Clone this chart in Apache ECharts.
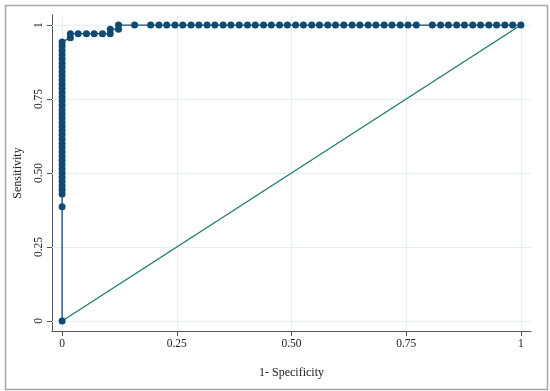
<!DOCTYPE html>
<html><head><meta charset="utf-8">
<script src="https://cdn.jsdelivr.net/npm/echarts@6/dist/echarts.min.js"></script>
<style>html,body{margin:0;padding:0;background:#fff}#c{width:550px;height:391px}</style>
</head><body><div id="c"></div>
<script>
const tickValues = [0, 0.25, 0.5, 0.75, 1];
const tickLabels = ['0', '0.25', '0.50', '0.75', '1'];

// ROC curve points (1 - specificity, sensitivity)
const rocFpr = [
  0, 0,
  0, 0, 0, 0, 0, 0, 0, 0, 0, 0,
  0, 0, 0, 0, 0, 0, 0, 0, 0, 0,
  0, 0, 0, 0, 0, 0, 0, 0, 0, 0,
  0, 0, 0, 0, 0, 0, 0,
  0.018, 0.018, 0.035, 0.053, 0.070, 0.088, 0.105, 0.105, 0.123, 0.123,
  0.158, 0.193, 0.211, 0.228, 0.246, 0.263, 0.281, 0.298, 0.316, 0.333, 0.351, 0.368, 0.386, 0.404,
  0.421, 0.439, 0.456, 0.474, 0.491, 0.509, 0.526, 0.544, 0.561, 0.579, 0.596, 0.614, 0.632, 0.649,
  0.667, 0.684, 0.702, 0.719, 0.737, 0.754, 0.772, 0.807, 0.825, 0.842, 0.860, 0.877, 0.895, 0.912,
  0.930, 0.947, 0.965, 0.982, 1.000
];
const rocTpr = [
  0, 0.386,
  0.429, 0.443, 0.457, 0.471, 0.486, 0.500, 0.514, 0.529, 0.543, 0.557,
  0.571, 0.586, 0.600, 0.614, 0.629, 0.643, 0.657, 0.671, 0.686, 0.700,
  0.714, 0.729, 0.743, 0.757, 0.771, 0.786, 0.800, 0.814, 0.829, 0.843,
  0.857, 0.871, 0.886, 0.900, 0.914, 0.929, 0.943,
  0.957, 0.971, 0.971, 0.971, 0.971, 0.971, 0.971, 0.986, 0.986, 1,
  1, 1, 1, 1, 1, 1, 1, 1, 1, 1, 1, 1, 1, 1,
  1, 1, 1, 1, 1, 1, 1, 1, 1, 1, 1, 1, 1, 1,
  1, 1, 1, 1, 1, 1, 1, 1, 1, 1, 1, 1, 1, 1,
  1, 1, 1, 1, 1
];
// Reference (chance) line
const refFpr = [0, 1];
const refTpr = [0, 1];

const font = '"Liberation Serif", "DejaVu Serif", serif';
const gridColor = '#e4eff2';
const axisColor = '#555';

const chart = echarts.init(document.getElementById('c'), null, { renderer: 'canvas' });
const lbl = v => {
  const i = tickValues.findIndex(t => Math.abs(t - v) < 1e-9);
  return i >= 0 ? tickLabels[i] : '';
};
const gridMarks = [];
tickValues.forEach(v => { gridMarks.push({ xAxis: v }); gridMarks.push({ yAxis: v }); });

chart.setOption({
  animation: false,
  backgroundColor: '#fff',
  graphic: [{
    type: 'rect', left: 3, top: 3, z: 100,
    shape: { width: 542, height: 384 },
    style: { fill: 'none', stroke: '#a6a6a6', lineWidth: 1.5 }
  }],
  grid: { left: 52, right: 19, top: 15, bottom: 60 },
  xAxis: {
    type: 'value', min: -0.022, max: 1.022,
    name: '1- Specificity', nameLocation: 'middle', nameGap: 36,
    nameTextStyle: { fontFamily: font, fontSize: 12, color: '#222' },
    axisLine: { show: true, onZero: false, lineStyle: { color: axisColor, width: 1 } },
    axisTick: { show: true, customValues: tickValues, length: 5, lineStyle: { color: axisColor } },
    axisLabel: { customValues: tickValues, formatter: lbl, margin: 7, fontFamily: font, fontSize: 11.5, color: '#222' },
    splitLine: { show: false }
  },
  yAxis: {
    type: 'value', min: -0.034, max: 1.034,
    name: 'Sensitivity', nameLocation: 'middle', nameGap: 28, nameRotate: 90,
    nameTextStyle: { fontFamily: font, fontSize: 12, color: '#222' },
    axisLine: { show: true, onZero: false, lineStyle: { color: axisColor, width: 1 } },
    axisTick: { show: true, customValues: tickValues, length: 5, lineStyle: { color: axisColor } },
    axisLabel: { customValues: tickValues, formatter: lbl, rotate: 90, margin: 7, fontFamily: font, fontSize: 11.5, color: '#222' },
    splitLine: { show: false }
  },
  series: [
    {
      type: 'line', name: 'Reference',
      data: refFpr.map((x, i) => [x, refTpr[i]]),
      showSymbol: false, symbol: 'none', z: 2,
      lineStyle: { color: '#1b7a6e', width: 1.3 },
      markLine: {
        silent: true, symbol: 'none', z: 1,
        label: { show: false },
        lineStyle: { color: gridColor, width: 1, type: 'solid' },
        data: gridMarks
      }
    },
    {
      type: 'line', name: 'ROC',
      data: rocFpr.map((x, i) => [x, rocTpr[i]]),
      symbol: 'circle', symbolSize: 7, showAllSymbol: true, z: 3,
      itemStyle: { color: '#104a72' },
      lineStyle: { color: '#104a72', width: 1.3 }
    }
  ]
});
</script>
</body></html>
